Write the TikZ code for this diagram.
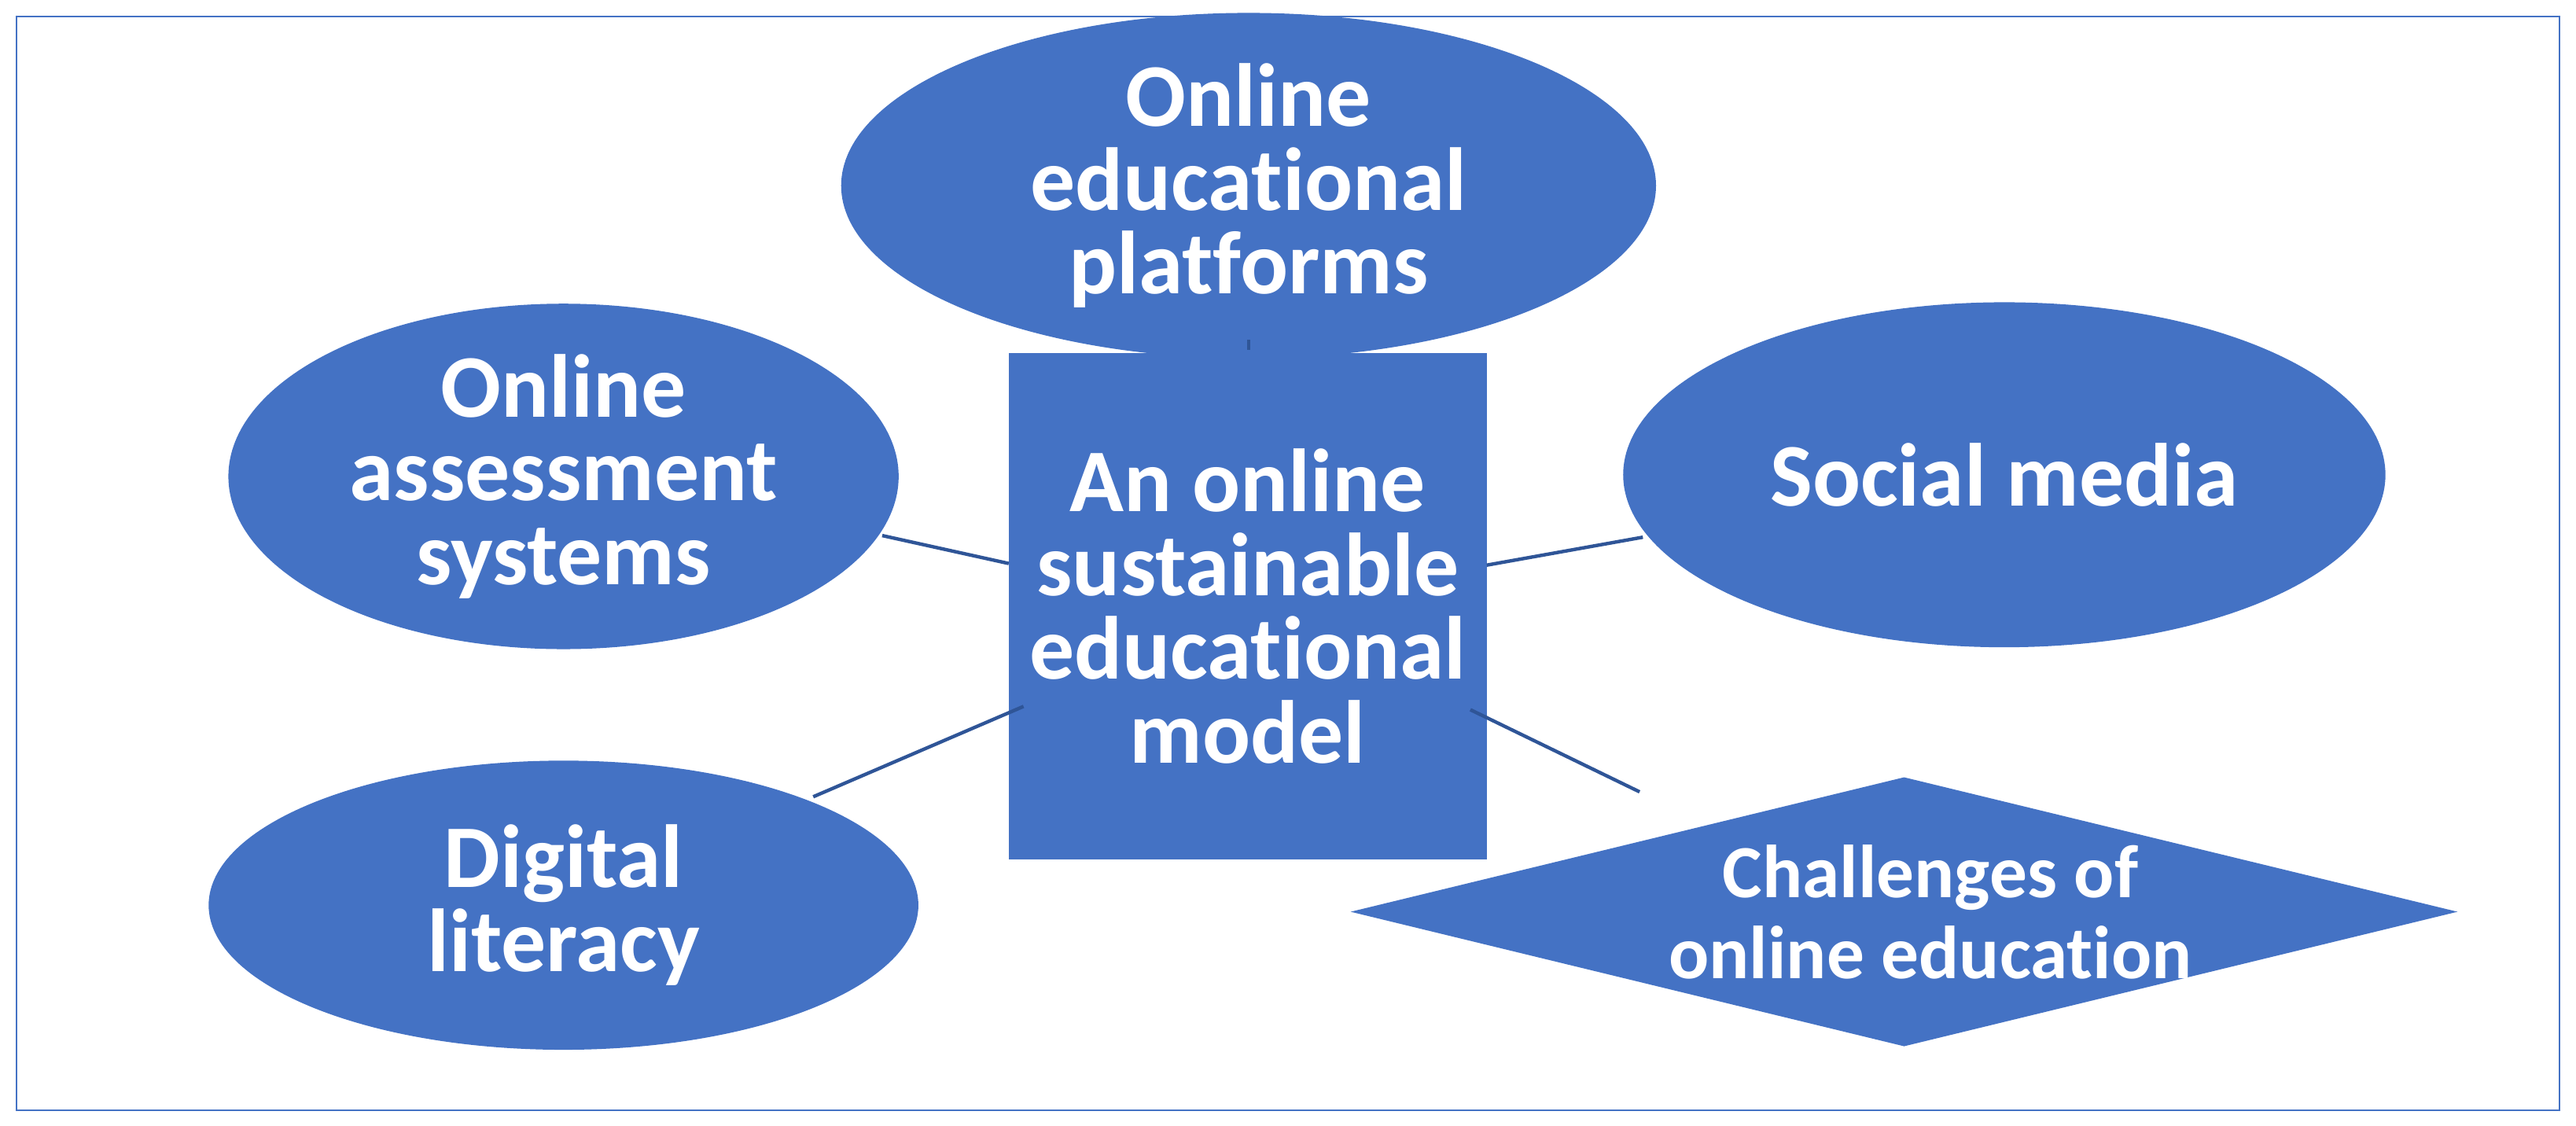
\documentclass[tikz,border=0pt]{standalone}
\usepackage{fontspec}
\setmainfont{Carlito}[Ligatures={NoCommon}]
\usetikzlibrary{shapes.geometric}
\definecolor{fillb}{HTML}{4472C4}
\definecolor{lineb}{HTML}{2F5597}
\begin{document}
\begin{tikzpicture}[x=0.02cm,y=-0.02cm,
  shp/.style={fill=fillb,draw=none,inner sep=0pt,text=white,font=\bfseries\fontsize{31}{31}\selectfont,align=center},
  ell/.style={shp,ellipse},
  conn/.style={draw=lineb,line width=1.2pt}]
\path[use as bounding box] (0,0) rectangle (1568,685);
\draw[fillb,line width=0.6pt] (10,10) rectangle (1558,676);
\node[ell,minimum width={496*0.02cm},minimum height={180*0.02cm}] (top) at (760,113) {Online\\[-2pt]educational\\[-2pt]platforms};
\node[ell,minimum width={408*0.02cm},minimum height={186*0.02cm}] (oas) at (343,290) {Online\\[-2pt]assessment\\[-2pt]systems};
\node[ell,minimum width={464*0.02cm},minimum height={210*0.02cm}] (sm) at (1220,289) {Social media};
\node[ell,minimum width={432*0.02cm},minimum height={176*0.02cm}] (dl) at (343,551) {Digital\\[-2pt]literacy};
\node[shp,diamond,aspect=4.1,minimum width={674*0.02cm},minimum height={164*0.02cm}] (ch) at (1159,555) {};
\node[shp,fill=none,font=\bfseries\fontsize{26}{28}\selectfont] (cht) at (1175,555) {Challenges of\\online education};
\node[shp,minimum width={291*0.02cm},minimum height={308*0.02cm}] (c) at (759.5,369) {An online\\[-2pt]sustainable\\[-2pt]educational\\[-2pt]model};
\coordinate (a1) at (760,207); \coordinate (a2) at (760,213);
\coordinate (b1) at (537,326); \coordinate (b2) at (614,343);
\coordinate (c1) at (905,344); \coordinate (c2) at (1000,327);
\coordinate (d1) at (495,485); \coordinate (d2) at (623,430);
\coordinate (e1) at (895,432); \coordinate (e2) at (998,482);
\draw[conn] (a1) -- (a2);
\draw[conn] (b1) -- (b2);
\draw[conn] (c1) -- (c2);
\draw[conn] (d1) -- (d2);
\draw[conn] (e1) -- (e2);
\end{tikzpicture}
\end{document}
